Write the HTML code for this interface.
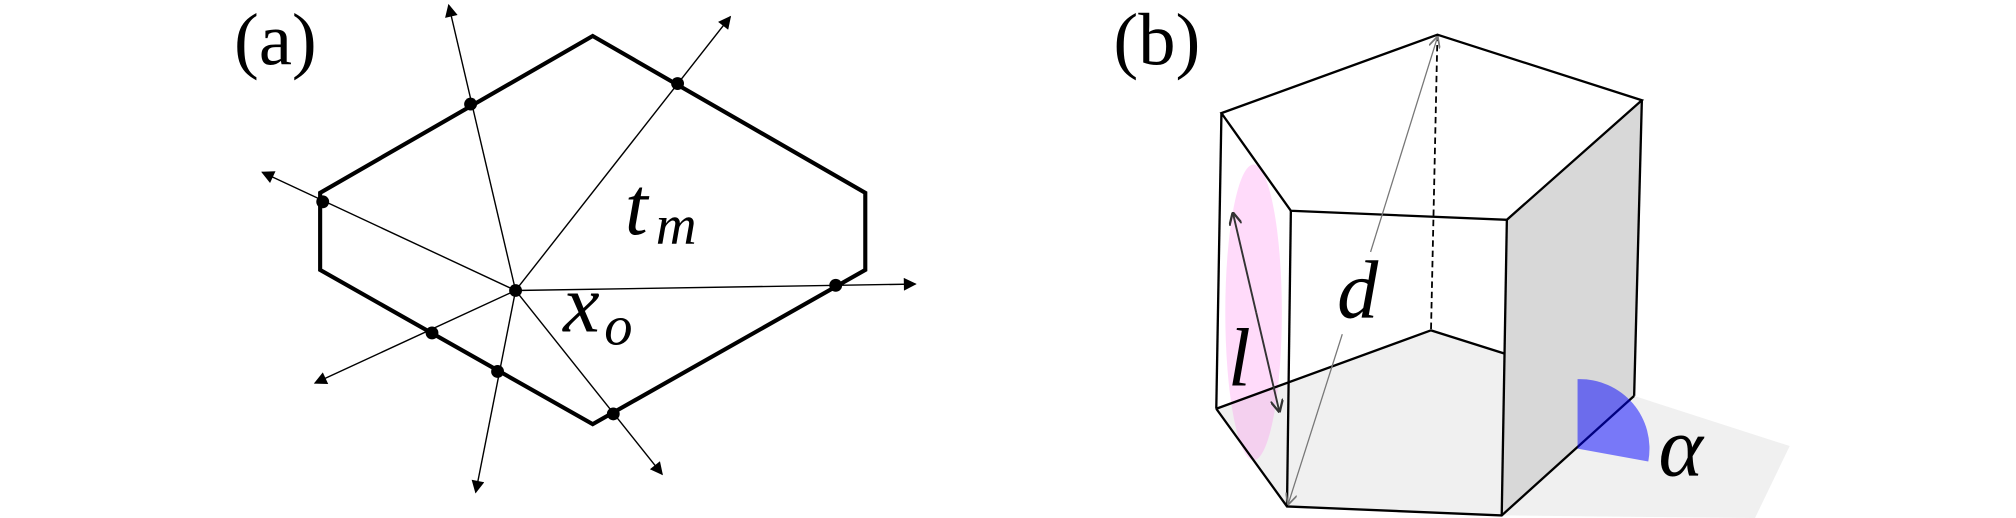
<!DOCTYPE html>
<html><head><meta charset="utf-8"><style>
html,body{margin:0;padding:0;background:#fff;width:2016px;height:518px;overflow:hidden}
svg{display:block}
text{font-family:"Liberation Serif",serif}
</style></head><body>
<svg id="fig" width="2016" height="518" viewBox="0 0 1568 403" preserveAspectRatio="none" xmlns="http://www.w3.org/2000/svg">
<defs>
<marker id="ah" viewBox="0 0 10 10" refX="9" refY="5" markerWidth="14" markerHeight="10" markerUnits="userSpaceOnUse" orient="auto"><path d="M0,0 L10,5 L0,10 Z" fill="#000"/></marker>
<marker id="ahg" viewBox="0 0 10 10" refX="9" refY="5" markerWidth="9" markerHeight="9" markerUnits="userSpaceOnUse" orient="auto"><path d="M0,0 L10,5 L0,10" fill="none" stroke="#777" stroke-width="1.5"/></marker>
<marker id="ahd" viewBox="0 0 10 10" refX="9" refY="5" markerWidth="10" markerHeight="10" markerUnits="userSpaceOnUse" orient="auto"><path d="M0,0 L10,5 L0,10" fill="none" stroke="#333" stroke-width="1.8"/></marker>
</defs>
<g id="pa"></g>
<g id="pb">
  <polygon points="1168,401 1271,308 1392,347 1365,403" fill="#f0f0f0"/>
  <polygon points="946,318 1001,394 1168,401 1271,308 1113,257" fill="#f0f0f0"/>
  <polygon points="1004,164 1172,171 1170,275 1113,257 1004,293" fill="#fff"/>
  <polygon points="1172,171 1277,78 1271,308 1168,401" fill="#d8d8d8"/>
  <ellipse cx="975" cy="243" rx="22" ry="115" fill="#ff88ee" fill-opacity="0.3"/>
  <g fill="none" stroke="#000" stroke-width="1.8">
    <polygon points="950,88 1118,27 1277,78 1172,171 1004,164"/>
    <line x1="950" y1="88" x2="946" y2="318"/>
    <line x1="1004" y1="164" x2="1001" y2="394"/>
    <line x1="1172" y1="171" x2="1168" y2="401"/>
    <line x1="1277" y1="78" x2="1271" y2="308"/>
    <polyline points="946,318 1001,394 1168,401 1271,308"/>
    <polyline points="946,318 1113,257 1170,275"/>
    <line x1="1118" y1="27" x2="1113" y2="257" stroke-dasharray="5,3" stroke-width="1.4"/>
  </g>
  <line x1="1066" y1="196" x2="1118" y2="29" stroke="#777" stroke-width="1" marker-end="url(#ahg)"/>
  <line x1="1044" y1="260" x2="1002" y2="392" stroke="#777" stroke-width="1" marker-end="url(#ahg)"/>
  <line x1="977" y1="243" x2="959" y2="166" stroke="#333" stroke-width="1.5" marker-end="url(#ahd)"/>
  <line x1="977" y1="243" x2="995" y2="320" stroke="#333" stroke-width="1.5" marker-end="url(#ahd)"/>
  <path d="M1227,349 L1227,295 A54,54 0 0 1 1282,359 Z" fill="#0000ff" fill-opacity="0.5"/>
  <text x="866" y="50" font-size="58">(b)</text>
  <text x="1040" y="247" font-size="64" font-style="italic">d</text>
  <text x="955" y="300" font-size="64" font-style="italic">l</text>
  <text x="1290" y="370" font-size="66" font-style="italic">α</text>
</g>
</svg>
<script>
const octagonX=[461,673,673,461,249,249];
const octagonY=[28,150,210,330,210,150];
const centerPt=[401,226];
const hitX=[366,527,251,650,336,387,477];
const hitY=[81,65,157,222,259,289,322];
const tipX=[349,568,204,712,245,370,515];
const tipY=[4,13,134,221,298,383,369];
var SVGNS='http://www.w3.org/2000/svg';
var panelA=document.getElementById('pa');
function mk(t,a){var e=document.createElementNS(SVGNS,t);for(var k in a)e.setAttribute(k,a[k]);panelA.appendChild(e);return e;}
var poly=mk('polygon',{points:octagonX.map(function(x,i){return x+','+octagonY[i];}).join(' '),fill:'none',stroke:'#000','stroke-width':3.2});


for(var i=0;i<tipX.length;i++){
  var l=mk('line',{x1:centerPt[0],y1:centerPt[1],x2:tipX[i],y2:tipY[i],stroke:'#000','stroke-width':1.1,'marker-end':'url(#ah)'});
  
  
}
for(var j=0;j<hitX.length;j++){
  var c=mk('circle',{cx:hitX[j],cy:hitY[j],r:5,fill:'#000'});
  
  
}
var c0=mk('circle',{cx:centerPt[0],cy:centerPt[1],r:5,fill:'#000'});


var ta=mk('text',{x:182,y:50,'font-size':58});
ta.textContent='(a)';


var tm=mk('text',{x:486,y:182,'font-size':64,'font-style':'italic'});
tm.textContent='t';


var tmSub=mk('text',{x:510,y:190,'font-size':44,'font-style':'italic'});
tmSub.textContent='m';


var xo=mk('text',{x:438,y:258,'font-size':64,'font-style':'italic'});
xo.textContent='x';


var xoSub=mk('text',{x:470,y:268,'font-size':44,'font-style':'italic'});
xoSub.textContent='o';


</script>
</body></html>
